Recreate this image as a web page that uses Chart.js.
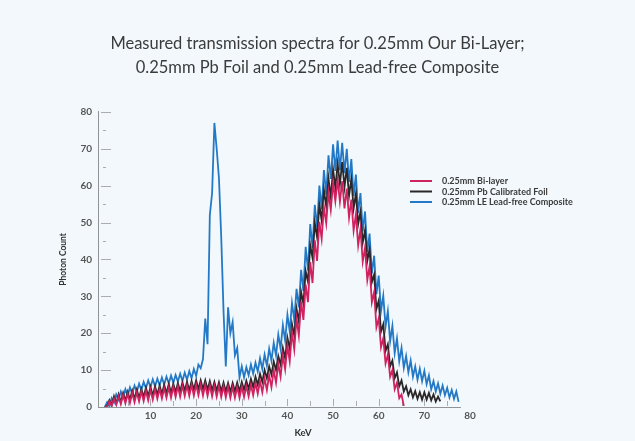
<!DOCTYPE html>
<html>
<head>
<meta charset="utf-8">
<script src="https://cdn.jsdelivr.net/npm/chart.js@4.4.0/dist/chart.umd.min.js"></script>
<style>
  html, body { margin: 0; padding: 0; background: #f2f8fb; }
  canvas { display: block; }
</style>
</head>
<body>
<canvas id="spectra" width="635" height="441"></canvas>
<script>
// samples every 0.5 keV, starting at 0 keV
const KEV_STEP = 0.5;

const seriesLabels = ['0.25mm Bi-layer', '0.25mm Pb Calibrated Foil', '0.25mm LE Lead-free Composite'];
const seriesColors = ['#d0225f', '#2b2627', '#2479c6'];

const xTickLabels = [10, 20, 30, 40, 50, 60, 70, 80];

// 0.25mm Bi-layer (pink)
const biLayer = [
  0, 0.2, 1.6, 0.3, 2.3, 0.6, 2.9, 0.8, 3.3, 1.0,
  3.5, 1.1, 3.8, 1.3, 3.9, 1.5, 4.2, 1.6, 4.4, 1.8,
  4.6, 2.0, 4.8, 2.2, 4.9, 2.3, 5.1, 2.5, 5.3, 2.5,
  5.5, 2.7, 5.6, 2.8, 5.8, 3.0, 5.9, 3.0, 6.0, 3.1,
  6.1, 3.2, 6.1, 3.1, 6.0, 3.0, 5.9, 2.9, 5.8, 2.8,
  5.7, 2.7, 5.6, 2.6, 5.5, 2.5, 5.4, 2.5, 5.4, 2.5,
  5.5, 2.7, 5.7, 2.9, 6.0, 3.2, 6.5, 3.6, 7.0, 4.0,
  7.7, 4.6, 8.6, 5.4, 10.0, 6.6, 11.7, 8.2, 14.0, 10.2,
  16.6, 12.4, 20.3, 15.6, 24.0, 19.4, 28.6, 23.6, 33.2, 28.4,
  39.3, 33.6, 45.2, 39.6, 50.2, 45.6, 54.2, 49.8, 58.2, 53.4,
  60.7, 55.8, 61.6, 55.6, 61.2, 53.8, 59.2, 51.3, 56.2, 47.8,
  52.2, 43.8, 48.2, 39.4, 43.2, 34.4, 38.2, 28.4, 31.2, 21.6,
  24.0, 16.2, 18.6, 11.8, 14.2, 8.2, 10.0, 4.8, 6.6, 2.4,
  3.4, 0.3
];

// 0.25mm Pb Calibrated Foil (black)
const pbFoil = [
  0, 0.3, 1.9, 0.5, 2.9, 0.9, 3.4, 1.3, 3.8, 1.7,
  4.1, 2.0, 4.4, 2.2, 4.7, 2.4, 4.9, 2.7, 5.2, 2.9,
  5.4, 3.1, 5.6, 3.3, 5.8, 3.5, 6.0, 3.7, 6.2, 3.9,
  6.3, 4.0, 6.5, 4.2, 6.7, 4.4, 6.8, 4.5, 7.0, 4.7,
  7.2, 4.8, 7.2, 4.8, 7.2, 4.7, 7.0, 4.5, 6.8, 4.4,
  6.7, 4.3, 6.6, 4.2, 6.5, 4.1, 6.5, 4.2, 6.6, 4.3,
  6.8, 4.6, 7.1, 4.9, 7.6, 5.4, 8.2, 6.0, 9.0, 6.8,
  10.0, 7.8, 11.0, 8.8, 12.3, 10.0, 13.8, 11.5, 16.0, 13.2,
  18.8, 15.8, 22.5, 19.4, 26.6, 23.2, 31.2, 28.0, 36.8, 34.0,
  43.8, 40.4, 49.8, 46.0, 54.8, 50.6, 58.8, 54.4, 61.9, 56.8,
  64.4, 59.4, 65.9, 60.4, 66.4, 59.6, 64.8, 57.2, 61.8, 53.8,
  57.8, 49.6, 52.9, 44.6, 47.9, 39.6, 42.8, 33.8, 35.9, 26.6,
  28.8, 20.4, 22.4, 15.2, 17.0, 11.0, 12.6, 7.8, 9.4, 5.6,
  7.2, 4.2, 5.6, 3.2, 4.8, 2.6, 4.3, 2.2, 4.0, 2.0,
  4.0, 2.0, 3.8, 1.8, 3.4, 1.5, 2.8, 1.5
];

// 0.25mm LE Lead-free Composite (blue)
const leComposite = [
  0, 1.3, 0.2, 2.4, 1.2, 3.4, 2.0, 4.2, 2.6, 4.8,
  3.1, 5.3, 3.6, 5.8, 4.1, 6.3, 4.6, 6.8, 5.1, 7.2,
  5.4, 7.5, 5.6, 7.7, 5.9, 8.0, 6.1, 8.2, 6.4, 8.5,
  6.6, 8.7, 6.9, 9.0, 7.1, 9.3, 7.4, 9.7, 7.8, 10.3,
  8.4, 11.5, 10.5, 13.0, 24.0, 17.0, 52.0, 58.0, 77.0, 70.0,
  62.0, 46.0, 26.0, 11.0, 27.0, 20.0, 23.0, 14.0, 16.0, 8.0,
  11.0, 8.0, 10.8, 8.6, 11.5, 9.0, 12.0, 9.6, 13.2, 10.3,
  14.2, 11.2, 15.8, 12.6, 17.4, 14.0, 19.6, 15.8, 22.2, 18.0,
  25.0, 20.5, 28.2, 23.6, 32.0, 27.0, 37.2, 31.4, 43.4, 37.0,
  49.6, 43.2, 54.8, 48.6, 60.0, 53.6, 64.2, 57.6, 68.2, 61.8,
  71.2, 64.0, 72.2, 64.2, 71.6, 63.4, 70.0, 61.0, 67.2, 57.2,
  63.0, 52.6, 58.0, 47.6, 53.0, 42.0, 47.0, 36.2, 41.0, 30.6,
  35.6, 26.0, 30.2, 21.8, 26.0, 17.8, 22.0, 14.6, 18.6, 12.4,
  16.0, 10.6, 13.8, 9.4, 12.6, 8.2, 11.0, 7.4, 10.4, 7.0,
  9.8, 6.2, 8.6, 4.8, 7.0, 4.2, 6.4, 3.6, 5.8, 3.2,
  5.2, 2.6, 4.6, 2.2, 4.2, 1.4
];

const toPoints = (values) => values.map((v, i) => ({ x: i * KEV_STEP, y: v }));

// short inner tick marks, the x axis line (stops where the data ends) and its title
const axisMarks = {
  id: 'axisMarks',
  beforeDatasetsDraw(chart) {
    const { ctx, chartArea, scales: { x, y } } = chart;
    ctx.save();
    ctx.strokeStyle = '#a9adb0';
    ctx.lineWidth = 1;
    ctx.beginPath();
    for (let v = 5; v <= 80; v += 5) {
      const py = Math.round(y.getPixelForValue(v)) + 0.5;
      const major = v % 10 === 0;
      ctx.moveTo(chartArea.left + (major ? 3 : 5), py);
      ctx.lineTo(chartArea.left + (major ? 13 : 8), py);
    }
    for (let v = 5; v <= 75; v += 5) {
      const px = Math.round(x.getPixelForValue(v)) + 0.5;
      ctx.moveTo(px, chartArea.bottom - 1);
      ctx.lineTo(px, chartArea.bottom - (v % 10 === 0 ? 8 : 6));
    }
    ctx.stroke();
    ctx.strokeStyle = '#8f9396';
    ctx.beginPath();
    const by = Math.round(chartArea.bottom) + 0.5;
    ctx.moveTo(chartArea.left, by);
    ctx.lineTo(x.getPixelForValue(78), by);
    ctx.stroke();

    ctx.fillStyle = '#333';
    ctx.font = 'bold 9.5px Lato';
    ctx.textAlign = 'center';
    ctx.textBaseline = 'middle';
    ctx.fillText('KeV', x.getPixelForValue(43.4), 433);
    ctx.restore();
  }
};

const sideLegend = {
  id: 'sideLegend',
  afterDraw(chart) {
    const { ctx } = chart;
    ctx.save();
    ctx.font = 'bold 9px Lato';
    ctx.textBaseline = 'middle';
    ctx.fillStyle = '#3a3a3a';
    chart.data.datasets.forEach((ds, i) => {
      const ly = 181 + i * 10.5;
      ctx.strokeStyle = ds.borderColor;
      ctx.lineWidth = 2;
      ctx.beginPath();
      ctx.moveTo(410, ly);
      ctx.lineTo(432, ly);
      ctx.stroke();
      ctx.fillText(ds.label, 442, ly + 0.5);
    });
    ctx.restore();
  }
};

new Chart(document.getElementById('spectra'), {
  type: 'line',
  data: {
    datasets: [biLayer, pbFoil, leComposite].map((values, i) => ({
      label: seriesLabels[i],
      data: toPoints(values),
      borderColor: seriesColors[i],
      backgroundColor: seriesColors[i],
      borderWidth: 1.8,
      pointRadius: 0,
      tension: 0,
      fill: false
    }))
  },
  options: {
    responsive: false,
    animation: false,
    devicePixelRatio: 1,
    layout: { padding: 0 },
    plugins: {
      legend: { display: false },
      tooltip: { enabled: false },
      title: {
        display: true,
        text: ['Measured transmission spectra for 0.25mm Our Bi-Layer;',
               '0.25mm Pb Foil and 0.25mm Lead-free Composite'],
        color: '#3b3b3b',
        font: { family: 'Lato', size: 16.5, weight: 'normal', lineHeight: 1.45 },
        padding: { top: 32, bottom: 32 }
      }
    },
    scales: {
      x: {
        type: 'linear',
        // the plot area runs to the right edge; 80 keV lands at x≈470
        min: -1.5,
        max: 116.15,
        afterBuildTicks: (scale) => { scale.ticks = xTickLabels.map(v => ({ value: v })); },
        afterFit: (scale) => { scale.height = 34; },
        grid: { display: false, drawTicks: false },
        border: { display: false },
        ticks: { padding: 3, color: '#555', font: { family: 'Lato', size: 10, weight: 'bold' }, maxRotation: 0 },
        title: { display: false }
      },
      y: {
        min: 0,
        max: 80,
        afterFit: (scale) => { scale.width = 98; },
        grid: { display: false, drawTicks: false },
        border: { display: true, color: '#8f9396', width: 1 },
        ticks: { stepSize: 10, padding: 6, color: '#555', font: { family: 'Lato', size: 10, weight: 'bold' } },
        title: { display: true, text: 'Photon Count', color: '#333', font: { family: 'Lato', size: 8.5, weight: 'bold' }, padding: { top: 58, bottom: 0 } }
      }
    }
  },
  plugins: [axisMarks, sideLegend]
});
</script>
</body>
</html>
